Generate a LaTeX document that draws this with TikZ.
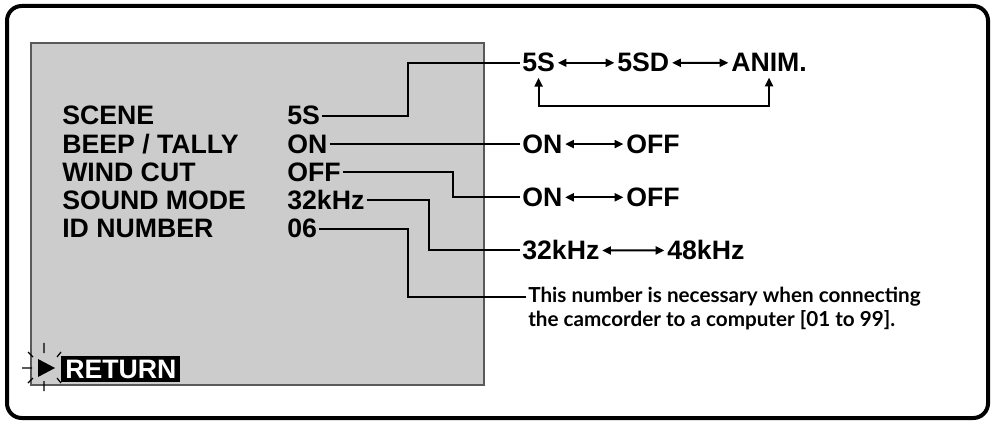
\documentclass[tikz,border=0pt]{standalone}
\usepackage{fontspec}
\setmainfont{Liberation Sans}
\newfontfamily\notefont{Lato}
\usetikzlibrary{arrows.meta,calc}
\begin{document}
\begin{tikzpicture}[x=0.75pt,y=-0.75pt,
  lab/.style={font=\fontsize{20}{24}\selectfont\bfseries, inner sep=0pt, anchor=base west},
  conn/.style={line width=1.5pt, shorten <=1.5pt, shorten >=1.5pt},
  tipA/.style={line width=1.5pt, {Triangle[length=6.5pt,width=6pt]}-{Triangle[length=6.5pt,width=6pt]}},
  dbl/.style={tipA, shorten <=2pt, shorten >=2pt},
  note/.style={font=\notefont\fontsize{15.5}{18}\selectfont\bfseries, inner sep=0pt, anchor=base west},
  spark/.style={line width=0.9pt}]
\useasboundingbox (0,0) rectangle (994,423);
\draw[line width=3pt, rounded corners=11pt] (7,6) rectangle (988,418);
\path[draw=black!65, line width=1pt, fill=black!20] (31,43) rectangle (484,385);
% menu
\node[lab] (l1) at (62,125) {SCENE};
\node[lab] (l2) at (62,153.25) {BEEP / TALLY};
\node[lab] (l3) at (62,181.5) {WIND CUT};
\node[lab] (l4) at (62,209.75) {SOUND MODE};
\node[lab] (l5) at (62,238) {ID NUMBER};
\node[lab] (v1) at (287,125) {5S};
\node[lab] (v2) at (287,153.25) {ON};
\node[lab] (v3) at (287,181.5) {OFF};
\node[lab] (v4) at (287,209.75) {32kHz};
\node[lab] (v5) at (287,238) {06};
% right side
\node[lab] (t5s) at (522,72) {5S};
\node[lab] (t5sd) at (617,72) {5SD};
\node[lab] (tanim) at (731,72) {ANIM.};
\node[lab] (on1) at (522,153.25) {ON};
\node[lab] (off1) at (626,153.25) {OFF};
\node[lab] (on2) at (522,206.5) {ON};
\node[lab] (off2) at (626,206.5) {OFF};
\node[lab] (k32) at (522,260) {32kHz};
\node[lab] (k48) at (667,260) {48kHz};
\node[note] (n1) at (528,303) {This number is necessary when connecting};
\node[note] (n2) at (528,327) {the camcorder to a computer [01 to 99].};
% connectors
\coordinate (c1) at (408,90);
\coordinate (c3) at (453,190);
\coordinate (c4) at (429,230);
\coordinate (c5) at (408,260);
\draw[conn] (v1.east) -| (c1) |- (t5s.west);
\draw[conn] (v2.east) -- (on1.west);
\draw[conn] (v3.east) -| (c3) |- (on2.west);
\draw[conn] (v4.east) -| (c4) |- (k32.west);
\draw[conn] (v5.east) -| (c5) |- (n1.west);
\draw[dbl] (t5s.east) -- (t5sd.west);
\draw[dbl] (t5sd.east) -- (tanim.west);
\draw[dbl] (on1.east) -- (off1.west);
\draw[dbl] (on2.east) -- (off2.west);
\draw[dbl] (k32.east) -- (k48.west);
\coordinate (ly) at (0,106);
\draw[tipA] ([yshift=-4pt]t5s.south) -- (t5s.south |- ly) -- (tanim.south |- ly) -- ([yshift=-4pt]tanim.south);
% return
\draw[spark] (44,343) -- (44,353) (44,381) -- (44,391) (22,368) -- (32,368)
  (28,352) -- (33,357) (61,352) -- (57,357) (28,383) -- (33,378) (61,383) -- (57,378);
\fill (38,359) -- (55,368) -- (38,377) -- cycle;
\node[font=\fontsize{20}{24}\selectfont\bfseries, fill=black, text=white, inner xsep=3pt, inner ysep=3pt, text height=14.2pt, text depth=0pt, anchor=west] (ret) at (61,369) {RETURN};
\end{tikzpicture}
\end{document}
